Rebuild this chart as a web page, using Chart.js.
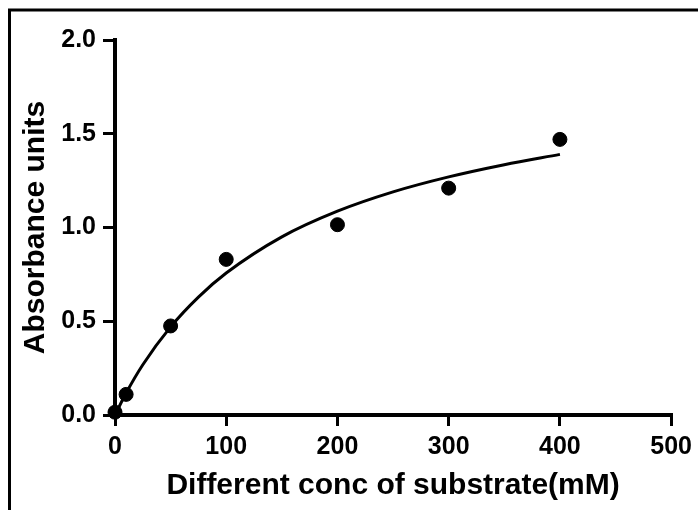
<!DOCTYPE html>
<html>
<head>
<meta charset="utf-8">
<script src="https://cdn.jsdelivr.net/npm/chart.js@4"></script>
<style>
  html, body { margin: 0; padding: 0; background: #fff; }
  #wrap { width: 698px; height: 510px; }
</style>
</head>
<body>
<div id="wrap"><canvas id="myChart" width="698" height="510"></canvas></div>
<script>
"use strict"

// measured points
const substrateConc = [0, 10, 50, 100, 200, 300, 400];
const absorbance = [0.015, 0.11, 0.475, 0.83, 1.015, 1.21, 1.47];

// fitted curve
const fitConc = [0, 10, 25, 50, 75, 100, 150, 200, 250, 300, 350, 400];
const fitAbs = [0, 0.117, 0.268, 0.47, 0.629, 0.757, 0.95, 1.087, 1.19, 1.27, 1.335, 1.39];

const xTicks = [0, 100, 200, 300, 400, 500];
const yTicks = [0, 0.5, 1.0, 1.5, 2.0];

const pointsData = [];
for (let i = 0; i < substrateConc.length; i++) {
    pointsData.push({ x: substrateConc[i], y: absorbance[i] });
}
const fitData = [];
for (let i = 0; i < fitConc.length; i++) {
    fitData.push({ x: fitConc[i], y: fitAbs[i] });
}

// frame round the figure
const framePlugin = {
    id: "frame",
    beforeDraw(chart) {
        const ctx = chart.ctx;
        ctx.save();
        ctx.fillStyle = "#fff";
        ctx.fillRect(0, 0, chart.width, chart.height);
        ctx.strokeStyle = "#000";
        ctx.lineWidth = 3;
        ctx.strokeRect(9.5, 10, 800, 700);
        ctx.restore();
    }
};

const tickFont = { family: "Liberation Sans, Arial, sans-serif", size: 25, weight: "bold" };
const titleFont = { family: "Liberation Sans, Arial, sans-serif", size: 30, weight: "bold" };

const data = {
    datasets: [
        {
            type: "scatter",
            label: "data",
            data: pointsData,
            backgroundColor: "#000",
            borderColor: "#000",
            pointRadius: 7,
            pointHoverRadius: 7,
            clip: false
        },
        {
            type: "line",
            label: "fit",
            data: fitData,
            borderColor: "#000",
            borderWidth: 3,
            pointRadius: 0,
            fill: false,
            cubicInterpolationMode: "monotone",
            clip: false
        }
    ]
};

const config = {
    type: "scatter",
    data: data,
    plugins: [framePlugin],
    options: {
        responsive: false,
        animation: false,
        layout: { padding: { top: 40, right: 24, bottom: 0, left: 0 } },
        plugins: { legend: { display: false }, tooltip: { enabled: false } },
        scales: {
            x: {
                type: "linear",
                min: 0,
                max: 500,
                afterBuildTicks: function (scale) {
                    scale.ticks = xTicks.map(v => ({ value: v }));
                },
                afterFit: function (scale) { scale.height = 95; },
                ticks: { color: "#000", font: tickFont, padding: 6, maxRotation: 0 },
                grid: { drawOnChartArea: false, color: "#000", lineWidth: 3, tickLength: 11 },
                border: { color: "#000", width: 4 },
                title: { display: true, text: "Different conc of substrate(mM)", color: "#000", font: titleFont, padding: { top: 0, bottom: 6 } }
            },
            y: {
                type: "linear",
                min: 0,
                max: 2,
                afterBuildTicks: function (scale) {
                    scale.ticks = yTicks.map(v => ({ value: v }));
                },
                afterFit: function (scale) { scale.width = 115; },
                ticks: {
                    color: "#000",
                    font: tickFont,
                    padding: 7,
                    callback: function (v) { return Number(v).toFixed(1); }
                },
                grid: { drawOnChartArea: false, color: "#000", lineWidth: 3, tickLength: 12 },
                border: { color: "#000", width: 4 },
                title: { display: true, text: "Absorbance units", color: "#000", font: titleFont, padding: { top: 18, bottom: 0 } }
            }
        }
    }
};

const productChart = new Chart(document.getElementById("myChart"), config);
</script>
</body>
</html>
